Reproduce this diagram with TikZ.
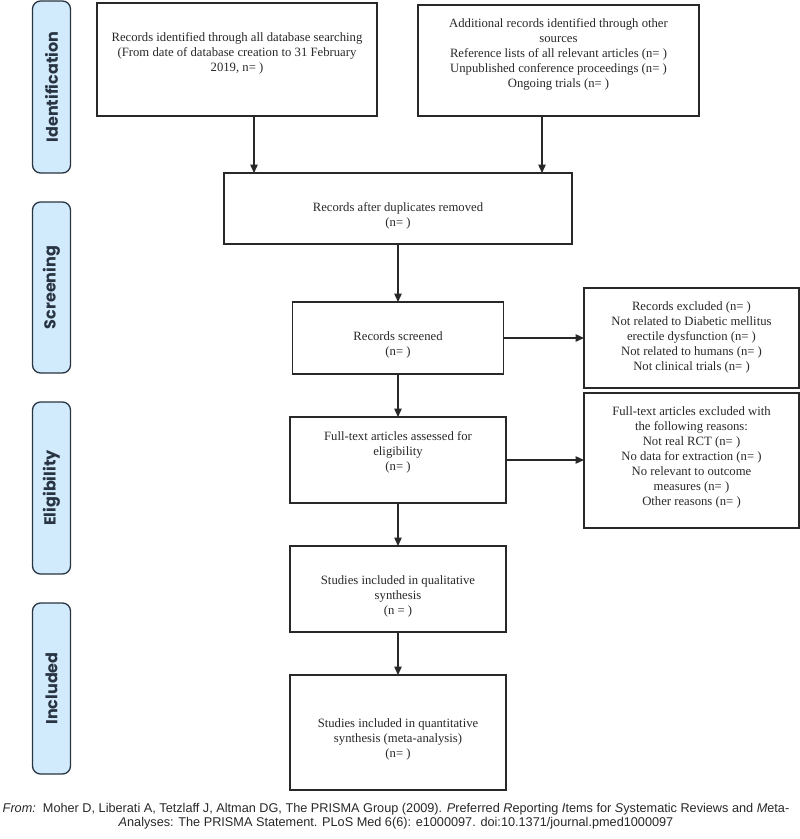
\documentclass[tikz,border=0pt]{standalone}
\usepackage{fontspec}
\setmainfont{Liberation Serif}
\setsansfont{Liberation Sans}
\newfontfamily\labfont{Poppins}
\usetikzlibrary{arrows.meta,calc}
\definecolor{labfill}{RGB}{210,235,252}
\definecolor{labdraw}{RGB}{40,52,66}
\definecolor{ink}{RGB}{40,40,40}
\tikzset{
 box/.style={draw=ink, line width=1.2pt, inner sep=0pt, outer sep=0pt, rectangle},
 txt/.style={align=center, font=\fontsize{12.7}{15}\selectfont, text=ink, inner sep=0pt},
 lab/.style={draw=labdraw, fill=labfill, line width=1.3pt, rounded corners=8pt, inner sep=0pt, outer sep=0pt, rotate=90, minimum height=38pt, font=\labfont\bfseries\fontsize{16}{19}\selectfont, text=labdraw},
 arr/.style={-{Triangle[length=8.5pt,width=7.5pt]}, line width=1.3pt, draw=ink},
}
\begin{document}
\begin{tikzpicture}[x=1pt,y=-1pt]
\useasboundingbox (0,0) rectangle (800,839);
% stage labels
\node[lab, minimum width=172pt] (l1) at (51.5,87) {Identification};
\node[lab, minimum width=171pt] (l2) at (51.5,287.5) {Screening};
\node[lab, minimum width=172pt] (l3) at (51.5,488) {Eligibility};
\node[lab, minimum width=171pt] (l4) at (51.5,688.5) {Included};
% boxes
\node[box, minimum width=280pt, minimum height=113pt] (b1) at (237,59.5) {};
\node[box, minimum width=281pt, minimum height=111pt] (b2) at (558.5,60.5) {};
\node[box, minimum width=348pt, minimum height=71pt] (b3) at (398,208.5) {};
\node[box, minimum width=211pt, minimum height=72pt] (b4) at (398,338) {};
\node[box, minimum width=215pt, minimum height=100pt] (b5) at (691.5,338) {};
\node[box, minimum width=216pt, minimum height=86pt] (b6) at (398,460) {};
\node[box, minimum width=215pt, minimum height=135pt] (b7) at (691.5,460.5) {};
\node[box, minimum width=216pt, minimum height=86pt] (b8) at (398,589) {};
\node[box, minimum width=216pt, minimum height=115pt] (b9) at (398,732.5) {};
% texts
\node[txt] (t1) at (237,53.5) {Records identified through all database searching\\(From date of database creation to 31 February\\2019, n= )};
\node[txt] (t2) at (558.5,54.5) {Additional records identified through other\\sources\\Reference lists of all relevant articles (n= )\\Unpublished conference proceedings (n= )\\Ongoing trials (n= )};
\node[txt] (t3) at (398,215.5) {Records after duplicates removed\\(n= )};
\node[txt] (t4) at (398,345) {Records screened\\(n= )};
\node[txt] (t5) at (691.5,337.5) {Records excluded (n= )\\Not related to Diabetic mellitus\\erectile dysfunction (n= )\\Not related to humans (n= )\\Not clinical trials (n= )};
\node[txt] (t6) at (398,452.5) {Full-text articles assessed for\\eligibility\\(n= )};
\node[txt] (t7) at (691.5,457.5) {Full-text articles excluded with\\the following reasons:\\Not real RCT (n= )\\No data for extraction (n= )\\No relevant to outcome\\measures (n= )\\Other reasons (n= )};
\node[txt] (t8) at (398,596) {Studies included in qualitative\\synthesis\\(n = )};
\node[txt] (t9) at (398,739.5) {Studies included in quantitative\\synthesis (meta-analysis)\\(n= )};
% connectors
\coordinate (a1) at ([xshift=17pt]b1.south);
\coordinate (a2) at ([xshift=-16.5pt]b2.south);
\draw[arr] (a1) -- (a1 |- b3.north);
\draw[arr] (a2) -- (a2 |- b3.north);
\draw[arr] (b3.south) -- (b4.north);
\draw[arr] (b4.east) -- (b4.east -| b5.west);
\draw[arr] (b4.south) -- (b6.north);
\draw[arr] (b6.east) -- (b6.east -| b7.west);
\draw[arr] (b6.south) -- (b8.north);
\draw[arr] (b8.south) -- (b9.north);
% caption
\node[font=\sffamily\fontsize{12.7}{14.5}\selectfont, align=center, text=ink, inner sep=0pt] (cap) at (396,816) {\textit{From:}\ \ Moher D, Liberati A, Tetzlaff J, Altman DG, The PRISMA Group (2009). \textit{P}referred \textit{R}eporting \textit{I}tems for \textit{S}ystematic Reviews and \textit{M}eta-\\\textit{A}nalyses: The PRISMA Statement. PLoS Med 6(6): e1000097. doi:10.1371/journal.pmed1000097};
\end{tikzpicture}
\end{document}
